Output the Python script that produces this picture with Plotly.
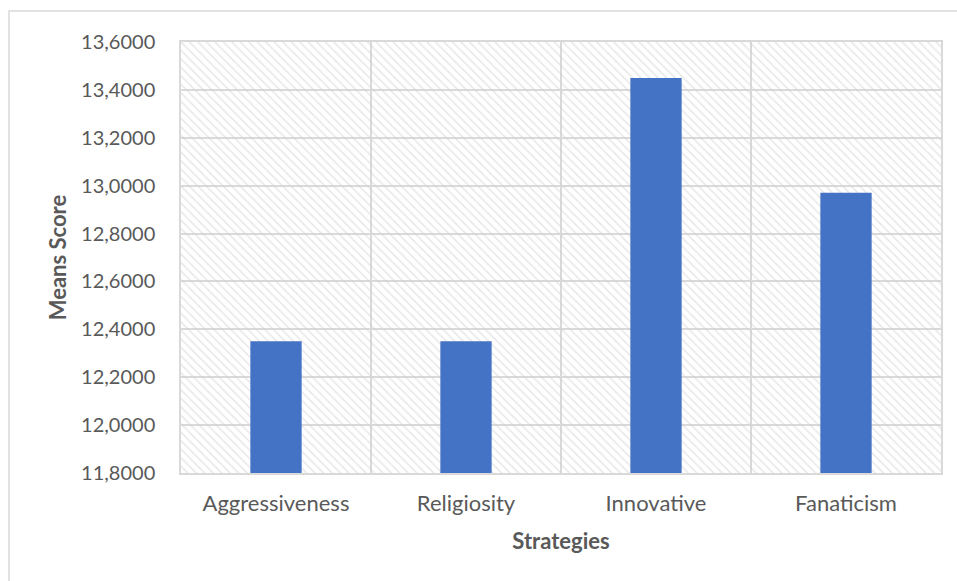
import plotly.graph_objects as go

categories = ["Aggressiveness", "Religiosity", "Innovative", "Fanaticism"]
mean_scores = [12.35, 12.35, 13.45, 12.97]
y_min, y_max, y_step = 11.8, 13.6, 0.2

grid = "#d9d9d9"
text_col = "#595959"
font_family = "Lato, 'Open Sans', sans-serif"

fig = go.Figure()

# hatched plot-area background, one cell per category
fig.add_trace(go.Bar(
    x=categories,
    y=[y_max - y_min] * len(categories),
    base=[y_min] * len(categories),
    width=1,
    marker=dict(
        color="rgba(0,0,0,0)",
        line=dict(width=0),
        pattern=dict(shape="\\", fgcolor="#cfcfcf", bgcolor="rgba(0,0,0,0)",
                     size=6, solidity=0.25, fillmode="overlay"),
    ),
    hoverinfo="skip",
    showlegend=False,
))

fig.add_trace(go.Bar(
    x=categories,
    y=[v - y_min for v in mean_scores],
    base=[y_min] * len(categories),
    width=0.27,
    marker=dict(color="#4472C4", line=dict(width=0)),
    showlegend=False,
    customdata=mean_scores,
    hovertemplate="%{x}: %{customdata:.4f}<extra></extra>",
))

fig.update_layout(
    width=957, height=581,
    margin=dict(l=181, r=16, t=42, b=108),
    paper_bgcolor="white",
    plot_bgcolor="white",
    barmode="overlay",
    separators=",.",
    font=dict(family=font_family, color=text_col, size=20),
    shapes=[dict(type="rect", xref="paper", yref="paper",
                 x0=-0.2263, y0=-0.4, x1=1.2, y1=1.0719,
                 line=dict(color=grid, width=1.5), fillcolor="rgba(0,0,0,0)",
                 layer="below")],
)

fig.update_xaxes(
    type="category",
    tickson="boundaries",
    showgrid=True, gridcolor=grid, gridwidth=1.5,
    showline=True, linecolor=grid, linewidth=1.5, mirror=True,
    ticks="", ticklabelstandoff=10,
    tickfont=dict(size=22, color=text_col),
    title=dict(text="<b>Strategies</b>", font=dict(size=22, color=text_col), standoff=18),
)

fig.update_yaxes(
    range=[y_min, y_max],
    tick0=y_min, dtick=y_step,
    tickformat=".4f",
    showgrid=True, gridcolor=grid, gridwidth=1.5,
    showline=True, linecolor=grid, linewidth=1.5, mirror=True,
    zeroline=False,
    ticks="", ticklabelstandoff=20,
    tickfont=dict(size=20, color=text_col),
    title=dict(text="<b>Means Score</b>", font=dict(size=22, color=text_col), standoff=8),
)

fig.write_html("out.html")
